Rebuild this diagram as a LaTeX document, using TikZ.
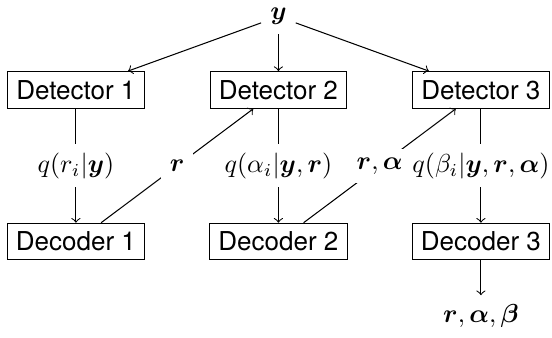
\documentclass[tikz,border=0pt]{standalone}
\usepackage{amsmath, amsfonts}
\usepackage{fontspec}
\setsansfont{TeX Gyre Heros}
\usepackage{tikz}
\usetikzlibrary{positioning}

\begin{document}
\begin{tikzpicture}[
    node distance=1.54cm and 0.88cm,
    block/.style={rectangle, draw=black, font=\sffamily},
    label/.style={fill=white},
    line/.style={->}
]

    \useasboundingbox (-29.2pt,34.6pt) rectangle (183.1pt,-95.4pt);

    % Detectors
    \node[block] (det1) at (0,0) {Detector 1};
    \node[block, right=of det1] (det2) {Detector 2};
    \node[block, right=of det2] (det3) {Detector 3};

    % Decoders
    \node[block, below=of det1] (dec1) {Decoder 1};
    \node[block, below=of det2] (dec2) {Decoder 2};
    \node[block, below=of det3] (dec3) {Decoder 3};

    % Input and output
    \node[above=0.5cm of det2] (y) {$\boldsymbol{y}$};
    \node[below=0.47cm of dec3] (out) {$\boldsymbol{r},\boldsymbol{\alpha},\boldsymbol{\beta}$};

    % Connections
    \draw[line] (y) -- (det1);
    \draw[line] (y) -- (det2);
    \draw[line] (y) -- (det3);
    \draw[line] (det1) -- node[label] {$q(r_i|\boldsymbol{y})$} (dec1);
    \draw[line] (det2) -- node[label] {$q(\alpha_i|\boldsymbol{y},\boldsymbol{r})$} (dec2);
    \draw[line] (det3) -- node[label] {$q(\beta_i|\boldsymbol{y},\boldsymbol{r},\boldsymbol{\alpha})$} (dec3);
    \draw[line] (dec1) -- node[label] {$\boldsymbol{r}$} (det2);
    \draw[line] (dec2) -- node[label] {$\boldsymbol{r},\boldsymbol{\alpha}$} (det3);
    \draw[line] (dec3) -- (out);

\end{tikzpicture}
\end{document}
